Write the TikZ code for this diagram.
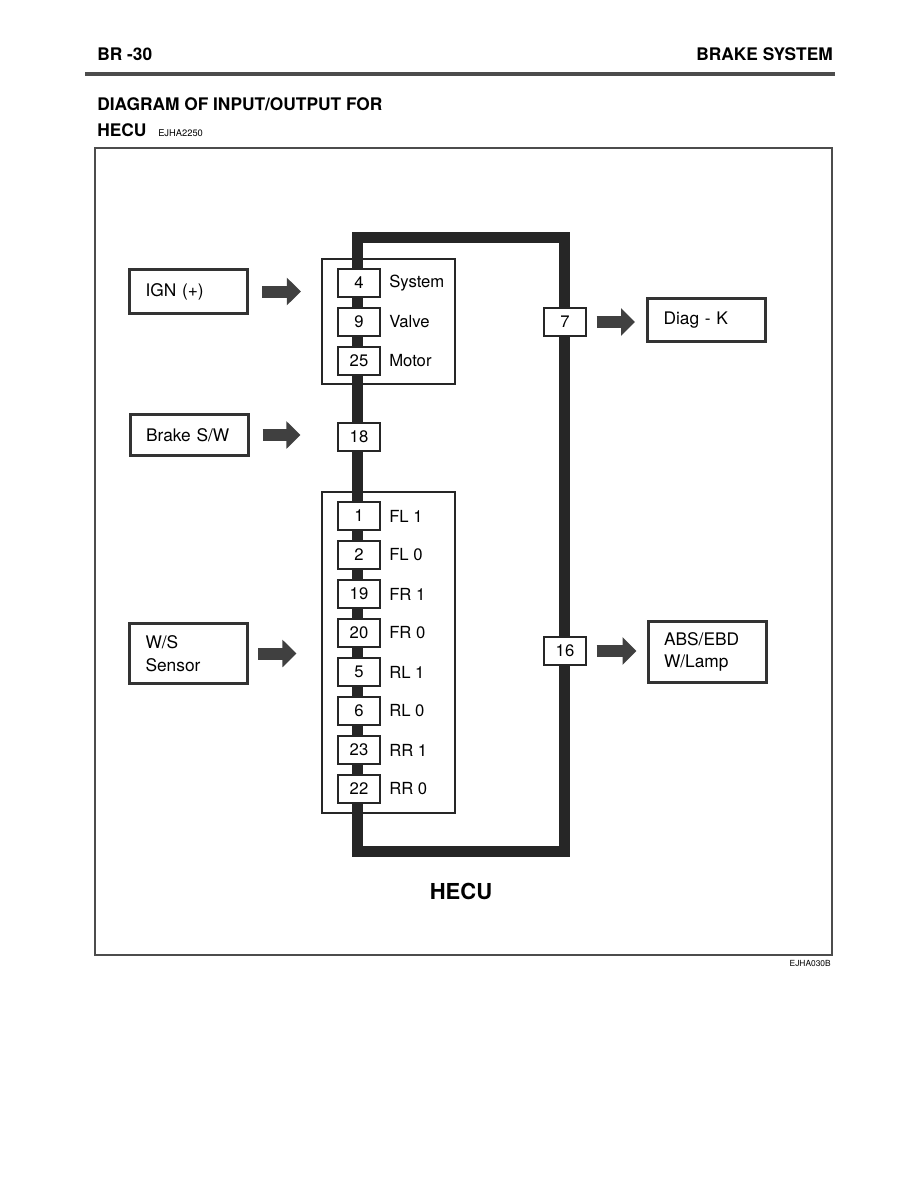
\documentclass[tikz,border=0pt]{standalone}
\usepackage{fontspec}
\setmainfont{TeX Gyre Heros}
\usetikzlibrary{arrows.meta,positioning}

\begin{document}
\begin{tikzpicture}[x=0.75pt,y=-0.75pt,
  inbox/.style={draw=black!80, line width=2.25pt, text width=64.5pt, inner xsep=12pt,
    align=left, font=\fontsize{13}{17}\selectfont},
  pinbox/.style={draw=black!85, fill=white, line width=0.8pt, minimum width=31.5pt,
    minimum height=21pt, inner sep=0pt, font=\fontsize{12.5}{15}\selectfont},
  pinlab/.style={anchor=west, inner sep=0pt, font=\fontsize{12.5}{15}\selectfont},
  grpbox/.style={draw=black!85, line width=0.8pt, inner sep=0pt},
  headtxt/.style={anchor=base west, inner sep=0pt, font=\bfseries\fontsize{13}{15}\selectfont},
  blockarrow/.style={black!75, line width=9pt, -{Triangle[length=10.5pt,width=20pt]}}]
  \useasboundingbox (0,0) rectangle (918,1188);

  % page header
  \node[headtxt] (page) at (97,61) {BR -30};
  \node[headtxt, anchor=base east] (chap) at (833,61) {BRAKE SYSTEM};
  \draw[black!70, line width=2.5pt] (85,74) -- (835,74);
  \node[headtxt] (title) at (97,110) {DIAGRAM OF INPUT/OUTPUT FOR};
  \node[headtxt] (titleb) at (97,136) {HECU};
  \node[anchor=base west, inner sep=0pt, font=\fontsize{7}{8}\selectfont] (code) at (158,136) {EJHA2250};

  % frame
  \draw[black!70, line width=0.9pt] (95,148) rectangle (832,955);

  % pin groups and the HECU loop
  \node[grpbox, minimum width=99.75pt, minimum height=93.75pt] (upper) at (388.5,321.5) {};
  \node[grpbox, minimum width=99.75pt, minimum height=240.75pt] (lower) at (388.5,652.5) {};
  \draw[black!85, line width=8.25pt] (357,237) rectangle (564,851);

  \foreach \n/\lab/\y in {4/System/283, 9/Valve/322, 25/Motor/361} {
    \node[pinbox] (p\n) at (359,\y) {\n};
    \node[pinlab] (l\n) at (389,\y) {\lab};
  }
  \node[pinbox] (p18) at (359,437) {18};
  \foreach \n/\lab [count=\i from 0] in {1/FL 1, 2/FL 0, 19/FR 1, 20/FR 0, 5/RL 1, 6/RL 0, 23/RR 1, 22/RR 0} {
    \node[pinbox] (p\n) at (359,{516+39*\i}) {\n};
    \node[pinlab] (l\n) at (389,{516+39*\i}) {\lab};
  }
  \node[pinbox] (p7) at (565,322) {7};
  \node[pinbox] (p16) at (565,651) {16};

  % inputs / outputs
  \node[inbox, minimum height=33pt] (ign) at (188.5,291.5) {IGN (+)};
  \node[inbox, minimum height=30.75pt] (brake) at (189,435) {Brake S/W};
  \node[inbox, minimum height=45pt] (ws) at (188.5,653.5) {W/S\\Sensor};
  \node[inbox, minimum height=32.25pt] (diag) at (706.5,320) {Diag - K};
  \node[inbox, minimum height=45.75pt] (lamp) at (707,652) {ABS/EBD\\W/Lamp};

  \draw[blockarrow, shorten <=9.75pt, shorten >=15.4pt] (ign.east) -- (upper.west |- ign.east);
  \draw[blockarrow, shorten <=9.75pt, shorten >=27.75pt] (brake.east) -- (p18.west |- brake.east);
  \draw[blockarrow, shorten <=6.75pt, shorten >=18.75pt] (ws.east) -- (lower.west |- ws.east);
  \draw[blockarrow, shorten <=7.5pt, shorten >=8.25pt] (p7.east) -- (diag.west |- p7.east);
  \draw[blockarrow, shorten <=7.5pt, shorten >=7.5pt] (p16.east) -- (lamp.west |- p16.east);

  \node[font=\bfseries\fontsize{16.5}{18}\selectfont] (hecu) at (461,891) {HECU};
  \node[anchor=base east, inner sep=0pt, font=\fontsize{6.3}{7}\selectfont] (fig) at (831,966) {EJHA030B};
\end{tikzpicture}
\end{document}
